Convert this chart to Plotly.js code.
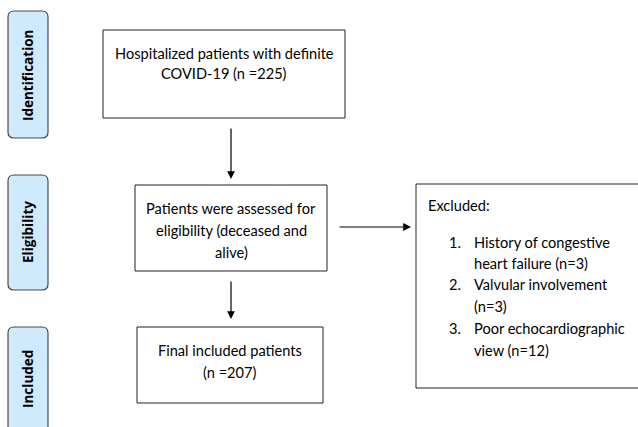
<!DOCTYPE html>
<html><head><meta charset="utf-8">
<script src="https://cdn.plot.ly/plotly-3.0.1.min.js"></script>
<style>html,body{margin:0;padding:0;background:#fff}#c{width:638px;height:427px}</style>
</head><body><div id="c"></div>
<script>
// Stage labels (left side)
const stages = ["Identification", "Eligibility", "Included"];
// Main flow boxes (text lines)
const box1Lines = ["Hospitalized patients with definite", "COVID-19 (n =225)"];
const box2Lines = ["Patients were assessed for", "eligibility (deceased and", "alive)"];
const box3Lines = ["Final included patients", "(n =207)"];
// Exclusion box
const excludedTitle = "Excluded:";
const excludedNums = ["1.", "", "2.", "", "3.", ""];
const excludedLines = ["History of congestive", "heart failure (n=3)", "Valvular involvement", "(n=3)", "Poor echocardiographic", "view (n=12)"];
// Counts
const nTotal = 225, nIncluded = 207;
const excludedCounts = [3, 3, 12];

// Geometry (layout)
const stageBoxes = [[8, 11, 48, 138], [8, 175, 48, 290], [8, 327, 48, 440]];
const stageCenters = [75, 232, 379];
const mainBoxes = [[103, 30, 345, 118], [135, 185, 327, 271], [137, 327, 323, 403]];
const mainLineY = [[53, 73], [208, 230, 252], [350, 372]];
const exBox = [416, 184, 645, 388];

const FONT = "Lato, 'Open Sans', sans-serif";
const FS = 14.6;
const shapes = [], ann = [];

function rrect(b, r) {
  const [x0, y0, x1, y1] = b;
  return `M${x0+r},${y0} L${x1-r},${y0} Q${x1},${y0} ${x1},${y0+r} L${x1},${y1-r} Q${x1},${y1} ${x1-r},${y1} L${x0+r},${y1} Q${x0},${y1} ${x0},${y1-r} L${x0},${y0+r} Q${x0},${y0} ${x0+r},${y0} Z`;
}
stageBoxes.forEach((b, i) => {
  shapes.push({type: 'path', xref: 'x', yref: 'y', path: rrect(b, 6), fillcolor: '#cfe9fd', line: {color: '#4a4a4a', width: 1.2}});
  ann.push({x: 28, y: stageCenters[i], xref: 'x', yref: 'y', text: '<b>' + stages[i] + '</b>', showarrow: false, textangle: -90, font: {family: "'Open Sans', sans-serif", size: 13.5, color: '#000'}});
});

[box1Lines, box2Lines, box3Lines].forEach((lines, i) => {
  const b = mainBoxes[i];
  shapes.push({type: 'rect', xref: 'x', yref: 'y', x0: b[0], y0: b[1], x1: b[2], y1: b[3], line: {color: '#222', width: 1}, fillcolor: 'rgba(0,0,0,0)'});
  lines.forEach((t, j) => ann.push({x: (b[0] + b[2]) / 2, y: mainLineY[i][j], xref: 'x', yref: 'y', text: t, showarrow: false, font: {family: FONT, size: FS, color: '#000'}}));
});

shapes.push({type: 'rect', xref: 'x', yref: 'y', x0: exBox[0], y0: exBox[1], x1: exBox[2], y1: exBox[3], line: {color: '#222', width: 1}, fillcolor: 'rgba(0,0,0,0)'});
ann.push({x: 426, y: 205, xref: 'x', yref: 'y', xanchor: 'left', text: excludedTitle, showarrow: false, font: {family: FONT, size: FS, color: '#000'}});
const exY = [242, 263, 284, 306, 328, 350];
excludedLines.forEach((t, j) => {
  if (excludedNums[j]) ann.push({x: 447, y: exY[j], xref: 'x', yref: 'y', xanchor: 'left', text: excludedNums[j], showarrow: false, font: {family: FONT, size: FS, color: '#000'}});
  ann.push({x: 472, y: exY[j], xref: 'x', yref: 'y', xanchor: 'left', text: t, showarrow: false, font: {family: FONT, size: FS, color: '#000'}});
});

// Arrows
const arrows = [[231, 127, 231, 179], [231, 280, 231, 319], [338, 227, 411, 227]];
arrows.forEach(a => ann.push({x: a[2], y: a[3], ax: a[0], ay: a[1], xref: 'x', yref: 'y', axref: 'x', ayref: 'y', text: '', showarrow: true, arrowhead: 2, arrowsize: 1.3, arrowwidth: 1.2, arrowcolor: '#000', standoff: 0}));

Plotly.newPlot('c', [], {
  width: 638, height: 427, margin: {l: 0, r: 0, t: 0, b: 0},
  paper_bgcolor: '#fff', plot_bgcolor: '#fff',
  xaxis: {range: [0, 638], visible: false, fixedrange: true},
  yaxis: {range: [427, 0], visible: false, fixedrange: true},
  shapes: shapes, annotations: ann, showlegend: false
}, {displayModeBar: false, staticPlot: true});
</script></body></html>
